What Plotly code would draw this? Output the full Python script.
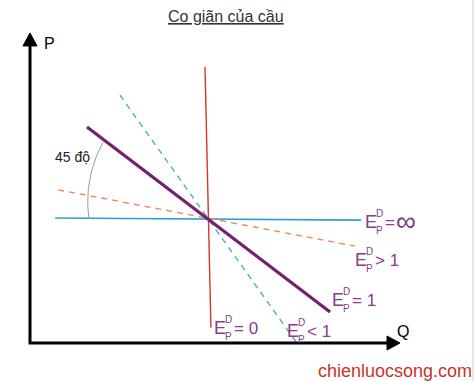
import numpy as np
import plotly.graph_objects as go

# ---- Diagram data (Q, P units; origin at the axes corner) ----
# Common point where all demand curves cross
Q0, P0 = 4.81, 3.35

# E = 0 (perfectly inelastic, near-vertical)
q_e0 = [4.73, 4.89]
p_e0 = [7.46, 0.41]
# E = infinity (perfectly elastic, horizontal)
q_einf = [0.68, 8.95]
p_einf = [3.38, 3.32]
# E = 1 (unit elastic)
q_e1 = [1.54, 8.11]
p_e1 = [5.84, 0.84]
# E > 1 (elastic, flat dashed)
q_egt1 = [0.76, 8.78]
p_egt1 = [4.14, 2.62]
# E < 1 (inelastic, steep dashed)
q_elt1 = [2.43, 7.19]
p_elt1 = [6.70, 0.03]

# Axes
Q_AXIS_END = 10.0
P_AXIS_END = 8.38

# ---- pixel helpers (canvas 474x381, origin at pixel (30,343), 37 px/unit) ----
W, H = 474, 381
OX, OY, S = 30, 343, 37.0


def px(x):
    return (x - OX) / S


def py(y):
    return (OY - y) / S


PURPLE_LINE = "#74206f"
PURPLE_TXT = "#8a3b8c"
FONT = "Arial, Liberation Sans, sans-serif"

fig = go.Figure()

# Curves
fig.add_trace(go.Scatter(x=q_einf, y=p_einf, mode="lines",
                         line=dict(color="#2f9fd3", width=1.6), hoverinfo="skip"))
fig.add_trace(go.Scatter(x=q_egt1, y=p_egt1, mode="lines",
                         line=dict(color="#e98b55", width=1.4, dash="6px,5px"), hoverinfo="skip"))
fig.add_trace(go.Scatter(x=q_elt1, y=p_elt1, mode="lines",
                         line=dict(color="#3bb0b0", width=1.3, dash="6px,5px"), hoverinfo="skip"))
fig.add_trace(go.Scatter(x=q_e0, y=p_e0, mode="lines",
                         line=dict(color="#d03a2e", width=1.4), hoverinfo="skip"))
fig.add_trace(go.Scatter(x=q_e1, y=p_e1, mode="lines",
                         line=dict(color=PURPLE_LINE, width=3.2), hoverinfo="skip"))

# Angle arc (45 degree mark), gray
ang = np.linspace(np.deg2rad(180), np.deg2rad(144), 30)
rad = np.linspace(119, 130, 30) / S
fig.add_trace(go.Scatter(x=Q0 + rad * np.cos(ang), y=P0 + rad * np.sin(ang), mode="lines",
                         line=dict(color="#9a9a9a", width=1), hoverinfo="skip"))

# Axes lines
fig.add_trace(go.Scatter(x=[0, 0, Q_AXIS_END - 0.3], y=[P_AXIS_END - 0.3, 0, 0], mode="lines",
                         line=dict(color="black", width=3), hoverinfo="skip"))
# Arrowheads
ah_len, ah_w = 13 / S, 7 / S
fig.add_trace(go.Scatter(x=[Q_AXIS_END, Q_AXIS_END - ah_len, Q_AXIS_END - ah_len, Q_AXIS_END],
                         y=[0, ah_w, -ah_w, 0], mode="lines", fill="toself",
                         fillcolor="black", line=dict(color="black", width=1), hoverinfo="skip"))
fig.add_trace(go.Scatter(x=[0, ah_w, -ah_w, 0],
                         y=[P_AXIS_END, P_AXIS_END - ah_len, P_AXIS_END - ah_len, P_AXIS_END],
                         mode="lines", fill="toself",
                         fillcolor="black", line=dict(color="black", width=1), hoverinfo="skip"))

ann = []


def txt(x, y, t, size, color="black", xanchor="left"):
    ann.append(dict(x=px(x), y=py(y), text=t, showarrow=False, xanchor=xanchor,
                    yanchor="middle", font=dict(size=size, color=color, family=FONT)))


def elabel(x, y, rest, rest_size=17):
    # E with stacked superscript D and subscript P
    txt(x, y, "E", 18, PURPLE_TXT)
    txt(x + 11, y - 9, "D", 10, PURPLE_TXT)
    txt(x + 11, y + 8, "P", 10, PURPLE_TXT)
    txt(x + 20, y, rest, rest_size, PURPLE_TXT)


# Title
txt(226, 16, "<u>Co giãn của cầu</u>", 16, "#333333", "center")
# Axis labels
txt(42, 43, "P", 16)
txt(395, 331, "Q", 16)
# Angle label
txt(53, 157, "45 độ", 14, "#222222")

# Elasticity labels
elabel(363, 222, "=", 17)
txt(394, 221, "∞", 28, PURPLE_TXT)
elabel(353, 260, "> 1")
elabel(330, 300, "= 1")
elabel(212, 328, "= 0")
elabel(285, 331, "< 1")

# Watermark
txt(474, 371, "chienluocsong.com", 18, "#c8342b", "right")

fig.update_layout(
    width=W, height=H, margin=dict(l=0, r=0, t=0, b=0),
    paper_bgcolor="white", plot_bgcolor="white", showlegend=False,
    xaxis=dict(range=[px(0), px(W)], visible=False, fixedrange=True),
    yaxis=dict(range=[py(H), py(0)], visible=False, fixedrange=True),
    annotations=ann,
    shapes=[dict(type="line", xref="paper", yref="paper", x0=0.998, x1=0.998, y0=0, y1=1,
                 line=dict(color="#cccccc", width=1))],
)

fig.write_html("out.html")
